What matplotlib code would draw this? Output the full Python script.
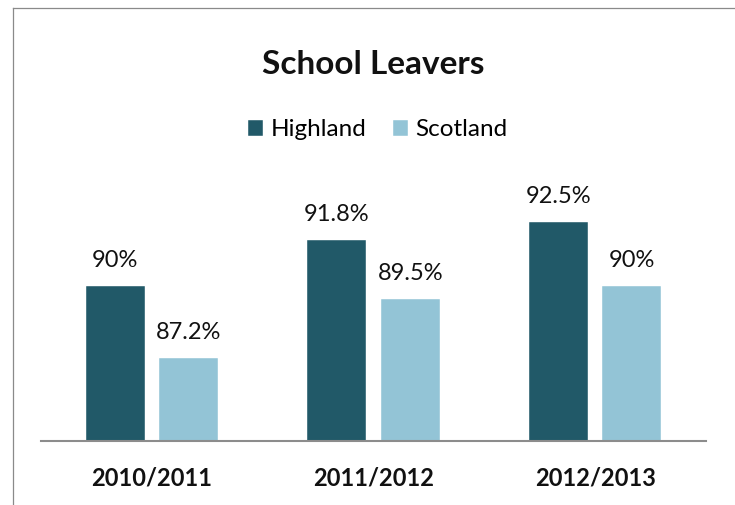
import matplotlib
matplotlib.use("Agg")
import matplotlib.pyplot as plt
from matplotlib import font_manager as fm
from matplotlib.lines import Line2D

# Data
years = ["2010/2011", "2011/2012", "2012/2013"]
highland = [90.0, 91.8, 92.5]
scotland = [87.2, 89.5, 90.0]
highland_labels = ["90%", "91.8%", "92.5%"]
scotland_labels = ["87.2%", "89.5%", "90%"]

DARK = "#215968"
LIGHT = "#93C4D6"

installed = {f.name for f in fm.fontManager.ttflist}
main_font = "Lato" if "Lato" in installed else "DejaVu Sans"
plt.rcParams["font.family"] = [main_font, "DejaVu Sans"]

W, H = 735, 505
fig = plt.figure(figsize=(W / 100, H / 100), dpi=100)
fig.patch.set_facecolor("white")

# plot area in pixels
left_px, right_px, base_px, top_px = 41, 706, 441, 170
ax = fig.add_axes([left_px / W, (H - base_px) / H,
                   (right_px - left_px) / W, (base_px - top_px) / H])

ymin = 84.0
px_per_unit = 25.8
ax.set_ylim(ymin, ymin + (base_px - top_px) / px_per_unit)
ax.set_xlim(-0.5, len(years) - 0.5)

x = list(range(len(years)))
bw = 0.266
off = 0.166
b1 = ax.bar([i - off for i in x], [v - ymin for v in highland], bottom=ymin,
            width=bw, color=DARK, label="Highland", edgecolor="white", linewidth=0.3)
b2 = ax.bar([i + off for i in x], [v - ymin for v in scotland], bottom=ymin,
            width=bw, color=LIGHT, label="Scotland", edgecolor="white", linewidth=0.3)

for xi, v, s in zip(x, highland, highland_labels):
    ax.annotate(s, (xi - off, v), xytext=(0, 13.7), textcoords="offset points",
                ha="center", va="baseline", fontsize=17, color="#111111")
for xi, v, s in zip(x, scotland, scotland_labels):
    ax.annotate(s, (xi + off, v), xytext=(0, 13.7), textcoords="offset points",
                ha="center", va="baseline", fontsize=17, color="#111111")

for side in ["left", "right", "top"]:
    ax.spines[side].set_visible(False)
ax.spines["bottom"].set_color("#8c8c8c")
ax.spines["bottom"].set_linewidth(1.5)
ax.set_yticks([])
ax.set_xticks(x)
ax.set_xticklabels(years, fontsize=17, fontweight="bold", color="#111111")
ax.tick_params(axis="x", length=0, pad=31.7)
for lbl in ax.get_xticklabels():
    lbl.set_va("baseline")

# Title
fig.text(373.5 / W, (H - 74.3) / H, "School Leavers", ha="center", va="baseline",
         fontsize=24, fontweight="bold", color="#111111")

# Legend
fig.legend(handles=[b1, b2], labels=["Highland", "Scotland"], loc="center",
           bbox_to_anchor=(378 / W, (H - 130) / H), ncol=2, frameon=False,
           fontsize=17.5, handlelength=0.62, handleheight=0.62, handletextpad=0.3,
           columnspacing=1.1, borderpad=0, borderaxespad=0)

# outer chart frame
fig.add_artist(Line2D([12.5 / W, 1.0], [(H - 7.5) / H] * 2, transform=fig.transFigure,
                      color="#8a8a8a", linewidth=0.9))
fig.add_artist(Line2D([12.5 / W] * 2, [0.0, (H - 7.5) / H], transform=fig.transFigure,
                      color="#8a8a8a", linewidth=0.9))

fig.savefig("out.png", dpi=100, facecolor="white")
